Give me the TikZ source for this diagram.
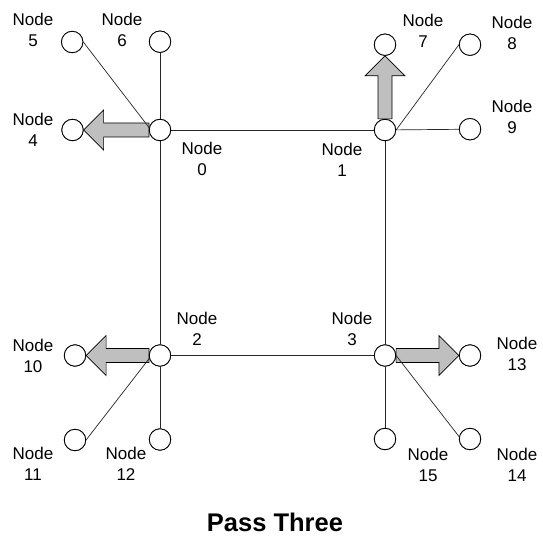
\documentclass[tikz,border=0pt]{standalone}
\usepackage{fontspec}
\setmainfont{Liberation Sans}
\usetikzlibrary{calc}
\begin{document}
\begin{tikzpicture}[x=1pt,y=-1pt,
  vertex/.style={circle,draw=black,fill=white,line width=0.8pt,minimum size=21.4pt,inner sep=0pt},
  lbl/.style={align=center,inner sep=0pt,font=\fontsize{17}{21}\selectfont},
  link/.style={draw=black!85,line width=0.7pt},
  garrow/.style={draw=black,fill=black!25,line width=0.7pt,line join=miter}]
\path[use as bounding box,fill=white] (0,0) rectangle (543,540);
% nodes
\node[vertex] (n0) at (160,130) {};
\node[vertex] (n1) at (385,130) {};
\node[vertex] (n2) at (160,355.5) {};
\node[vertex] (n3) at (385,355.5) {};
\node[vertex] (n4) at (72.5,130) {};
\node[vertex] (n5) at (72.2,42) {};
\node[vertex] (n6) at (160,41.7) {};
\node[vertex] (n7) at (385,44.7) {};
\node[vertex] (n8) at (470,44.7) {};
\node[vertex] (n9) at (470,129.2) {};
\node[vertex] (n10) at (75,355.5) {};
\node[vertex] (n11) at (75,440) {};
\node[vertex] (n12) at (160,439.5) {};
\node[vertex] (n13) at (470,355.5) {};
\node[vertex] (n14) at (470,439) {};
\node[vertex] (n15) at (385,439) {};
% arrows
\draw[garrow] ($(n0.west)+(0,-7)$) -- ($(n4.east)+(20,-7)$) -- ($(n4.east)+(20,-20)$) -- (n4.east)
  -- ($(n4.east)+(20,20)$) -- ($(n4.east)+(20,7)$) -- ($(n0.west)+(0,7)$) -- cycle;
\draw[garrow] ($(n2.west)+(0,-7)$) -- ($(n10.east)+(20,-7)$) -- ($(n10.east)+(20,-20)$) -- (n10.east)
  -- ($(n10.east)+(20,20)$) -- ($(n10.east)+(20,7)$) -- ($(n2.west)+(0,7)$) -- cycle;
\draw[garrow] ($(n3.east)+(0,-7)$) -- ($(n13.west)+(-20,-7)$) -- ($(n13.west)+(-20,-20)$) -- (n13.west)
  -- ($(n13.west)+(-20,20)$) -- ($(n13.west)+(-20,7)$) -- ($(n3.east)+(0,7)$) -- cycle;
\draw[garrow] ($(n1.north)+(-7,0)$) -- ($(n7.south)+(-7,20)$) -- ($(n7.south)+(-20,20)$) -- (n7.south)
  -- ($(n7.south)+(20,20)$) -- ($(n7.south)+(7,20)$) -- ($(n1.north)+(7,0)$) -- cycle;
% links
\draw[link] (n0) -- (n1);
\draw[link] (n0) -- (n2);
\draw[link] (n1) -- (n3);
\draw[link] (n2) -- (n3);
\draw[link] (n0) -- (n6);
\draw[link] (n1) -- (n9);
\draw[link] (n2) -- (n12);
\draw[link] (n3) -- (n15);
\draw[link] (n5.east) -- (n0.168);
\draw[link] (n1.east) -- (n8.west);
\draw[link] (n11.east) -- (n2.195);
\draw[link] (n3.east) -- (n14.168);
% redraw circles on top
\foreach \n in {n0,n1,n2,n3,n4,n5,n6,n7,n8,n9,n10,n11,n12,n13,n14,n15}
  \draw[line width=0.8pt,fill=white] (\n.center) circle[radius=10.7pt];
% labels
\node[lbl] (l0) at (202,158.5) {Node\\0};
\node[lbl] (l1) at (342,160) {Node\\1};
\node[lbl] (l2) at (197,328.5) {Node\\2};
\node[lbl] (l3) at (352,329) {Node\\3};
\node[lbl] (l4) at (33,129.5) {Node\\4};
\node[lbl] (l5) at (33,29.5) {Node\\5};
\node[lbl] (l6) at (122,29.5) {Node\\6};
\node[lbl] (l7) at (423,31) {Node\\7};
\node[lbl] (l8) at (512,33) {Node\\8};
\node[lbl] (l9) at (512,117) {Node\\9};
\node[lbl] (l10) at (33,356) {Node\\10};
\node[lbl] (l11) at (33,464) {Node\\11};
\node[lbl] (l12) at (126,464) {Node\\12};
\node[lbl] (l13) at (517,354) {Node\\13};
\node[lbl] (l14) at (517,465) {Node\\14};
\node[lbl] (l15) at (428,465) {Node\\15};
\node[inner sep=0pt,font=\fontsize{25.5}{30}\selectfont\bfseries] (title) at (275,522.5) {Pass Three};
\end{tikzpicture}
\end{document}
